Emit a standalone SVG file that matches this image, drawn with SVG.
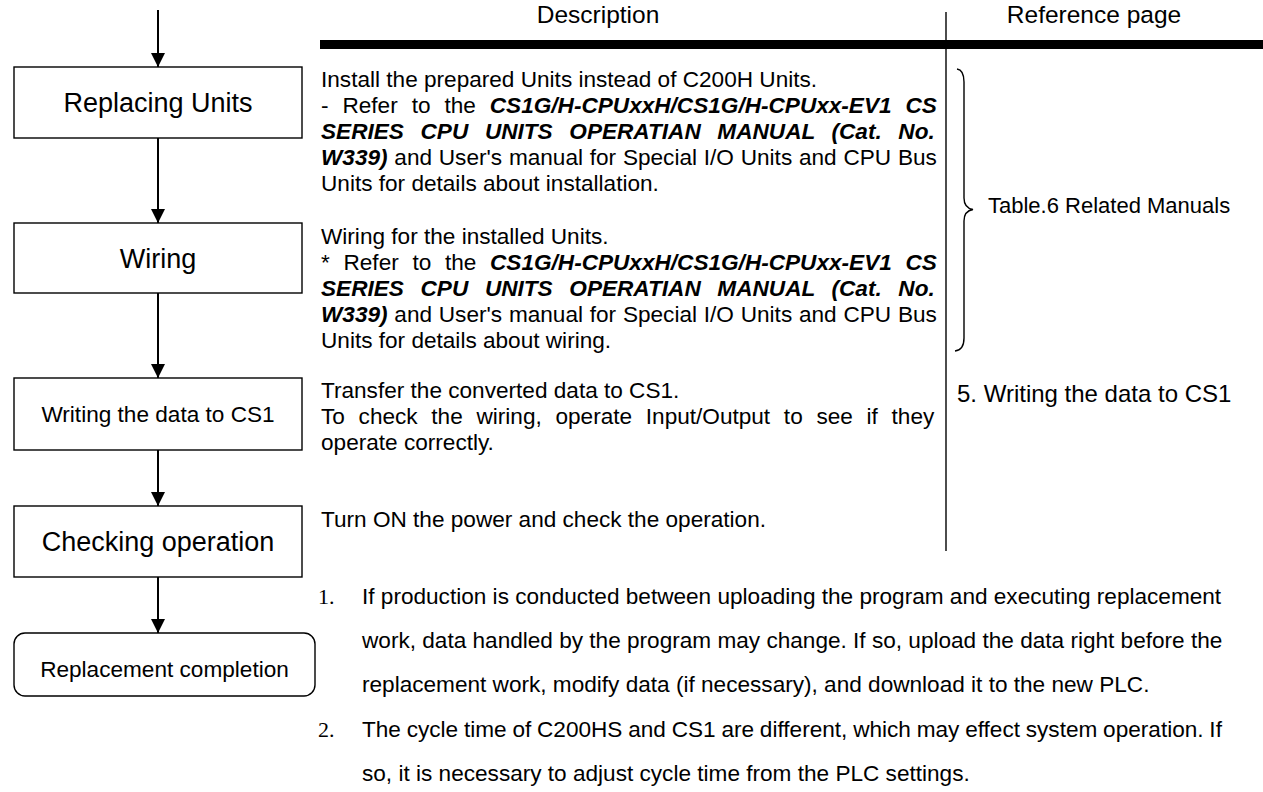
<svg xmlns="http://www.w3.org/2000/svg" width="1263" height="792" viewBox="0 0 1263 792">
<style>
text{font-family:"Liberation Sans",Arial,Helvetica,sans-serif;fill:#000}
.box{fill:#fff;stroke:#000;stroke-width:1.4}
.big{font-size:27px;text-anchor:middle}
.mid{font-size:22.6px;text-anchor:middle}
.body{font-size:22.6px}
.bi{font-weight:bold;font-style:italic}
.hdr{font-size:24.5px;text-anchor:middle}
.num{font-family:"Liberation Serif","Times New Roman",serif;font-size:22px}
.conn{stroke:#000;stroke-width:2;fill:none}
</style>
<defs>
<marker id="ah" viewBox="0 0 14 14" refX="14" refY="7" markerWidth="14" markerHeight="14" markerUnits="userSpaceOnUse" orient="auto">
<path d="M0,0 L14,7 L0,14 z" fill="#000"/>
</marker>
</defs>

<g id="connectors">
<line class="conn" x1="158" y1="10" x2="158" y2="67" marker-end="url(#ah)"/>
<line class="conn" x1="158" y1="138" x2="158" y2="223" marker-end="url(#ah)"/>
<line class="conn" x1="158" y1="293" x2="158" y2="378" marker-end="url(#ah)"/>
<line class="conn" x1="158" y1="450" x2="158" y2="506" marker-end="url(#ah)"/>
<line class="conn" x1="158" y1="577" x2="158" y2="633" marker-end="url(#ah)"/>
</g>

<g id="node-replacing">
<rect class="box" x="14" y="67" width="288" height="71"/>
<text class="big" x="158" y="112">Replacing Units</text>
</g>
<g id="node-wiring">
<rect class="box" x="14" y="223" width="288" height="70"/>
<text class="big" x="158" y="267.5">Wiring</text>
</g>
<g id="node-writing">
<rect class="box" x="14" y="378" width="288" height="72"/>
<text class="mid" x="158" y="422">Writing the data to CS1</text>
</g>
<g id="node-checking">
<rect class="box" x="14" y="506" width="288" height="71"/>
<text class="big" x="158" y="551">Checking operation</text>
</g>
<g id="node-completion">
<rect class="box" x="14" y="633" width="301" height="63" rx="11" ry="11"/>
<text class="mid" x="164.5" y="677">Replacement completion</text>
</g>

<g id="table-header">
<text class="hdr" x="598" y="23">Description</text>
<text class="hdr" x="1094" y="23">Reference page</text>
<rect x="320" y="40" width="943" height="9" fill="#000"/>
<line x1="946" y1="12" x2="946" y2="551" stroke="#000" stroke-width="1.4"/>
</g>

<g id="desc-replacing">
<text class="body" x="321" y="87">Install the prepared Units instead of C200H Units.</text>
<text class="body" x="321" y="113" word-spacing="7.66">- Refer to the <tspan class="bi">CS1G/H-CPUxxH/CS1G/H-CPUxx-EV1 CS</tspan></text>
<text class="body bi" x="321" y="139" word-spacing="10.38">SERIES CPU UNITS OPERATIAN MANUAL (Cat. No.</text>
<text class="body" x="321" y="165" word-spacing="0.5"><tspan class="bi">W339)</tspan> and User's manual for Special I/O Units and CPU Bus</text>
<text class="body" x="321" y="191">Units for details about installation.</text>
</g>

<g id="desc-wiring">
<text class="body" x="321" y="244">Wiring for the installed Units.</text>
<text class="body" x="321" y="270" word-spacing="7.4">* Refer to the <tspan class="bi">CS1G/H-CPUxxH/CS1G/H-CPUxx-EV1 CS</tspan></text>
<text class="body bi" x="321" y="296" word-spacing="10.38">SERIES CPU UNITS OPERATIAN MANUAL (Cat. No.</text>
<text class="body" x="321" y="322" word-spacing="0.5"><tspan class="bi">W339)</tspan> and User's manual for Special I/O Units and CPU Bus</text>
<text class="body" x="321" y="348">Units for details about wiring.</text>
</g>

<g id="desc-writing">
<text class="body" x="321" y="398">Transfer the converted data to CS1.</text>
<text class="body" x="321" y="424" word-spacing="7.44">To check the wiring, operate Input/Output to see if they</text>
<text class="body" x="321" y="450">operate correctly.</text>
</g>

<g id="desc-checking">
<text class="body" x="321" y="527">Turn ON the power and check the operation.</text>
</g>

<g id="reference">
<path d="M957,69 Q964,70 964,82 L964,198 Q964,208 973,209.5 Q964,211 964,221 L964,338 Q964,350 955,351" fill="none" stroke="#000" stroke-width="1.4"/>
<text class="body" x="988" y="213" style="font-size:22px">Table.6 Related Manuals</text>
<text class="body" x="957" y="402" style="font-size:24px">5. Writing the data to CS1</text>
</g>

<g id="notes">
<text class="num" x="318" y="604">1.</text>
<text class="body" x="362" y="604">If production is conducted between uploading the program and executing replacement</text>
<text class="body" x="362" y="648">work, data handled by the program may change. If so, upload the data right before the</text>
<text class="body" x="362" y="692">replacement work, modify data (if necessary), and download it to the new PLC.</text>
<text class="num" x="318" y="737">2.</text>
<text class="body" x="362" y="737" word-spacing="-0.5">The cycle time of C200HS and CS1 are different, which may effect system operation. If</text>
<text class="body" x="362" y="781">so, it is necessary to adjust cycle time from the PLC settings.</text>
</g>
</svg>
